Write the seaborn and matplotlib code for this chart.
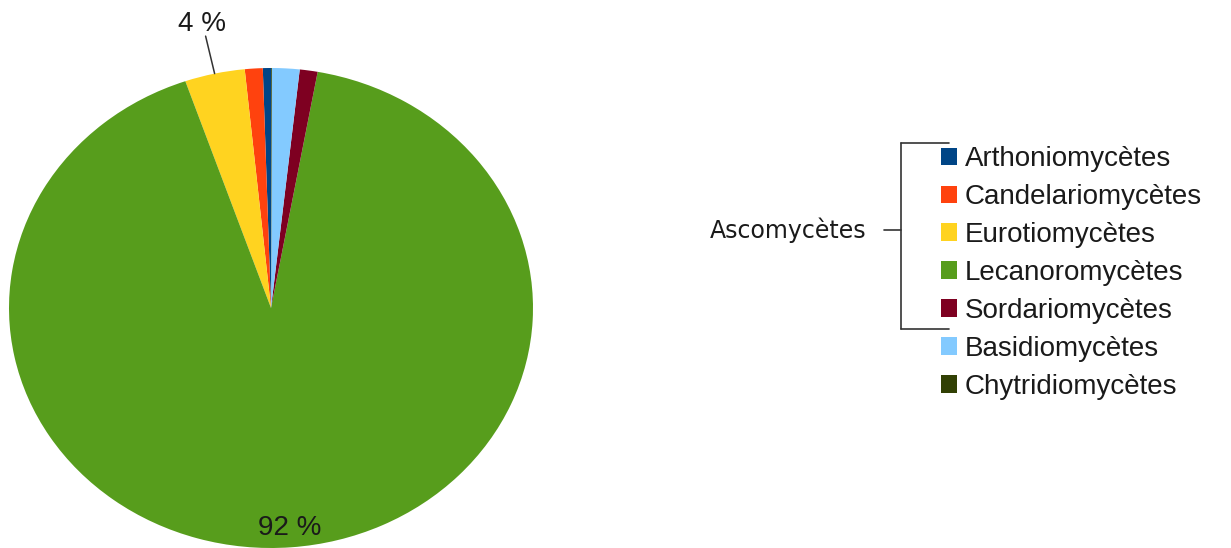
import matplotlib
matplotlib.use("Agg")
import matplotlib.pyplot as plt
from matplotlib.lines import Line2D
import numpy as np
import seaborn as sns

# data
classes = ["Arthoniomycètes", "Candelariomycètes", "Eurotiomycètes", "Lecanoromycètes",
           "Sordariomycètes", "Basidiomycètes", "Chytridiomycètes"]
shares = [0.5, 1.1, 3.7, 91.8, 1.1, 1.7, 0.05]
colors = ["#004586", "#ff420e", "#ffd320", "#579d1c", "#7e0021", "#83caff", "#314004"]
shown_labels = {"Eurotiomycètes": "4 %", "Lecanoromycètes": "92 %"}
group_name = "Ascomycètes"
group_size = 5

sns.set_theme(style="white")
plt.rcParams["font.family"] = ["Liberation Sans", "DejaVu Sans"]

W, H = 1231, 548
fig = plt.figure(figsize=(W / 100, H / 100), dpi=100)
fig.patch.set_facecolor("white")

# pie is slightly stretched horizontally in the reference
ax = fig.add_axes([9 / W, 0, 524 / W, 480 / H])
wedges, _ = ax.pie(shares, colors=colors, startangle=90, counterclock=True,
                   radius=1, wedgeprops=dict(linewidth=0))
ax.set_aspect("auto")
ax.set_xlim(-1, 1)
ax.set_ylim(-1, 1)
ax.axis("off")

for w, name in zip(wedges, classes):
    if name not in shown_labels:
        continue
    mid = np.deg2rad((w.theta1 + w.theta2) / 2)
    c, s = np.cos(mid), np.sin(mid)
    if w.theta2 - w.theta1 > 180:
        ax.text(0.92 * c, 0.92 * s, shown_labels[name], ha="center", va="center",
                fontsize=20, color="#1a1a1a", clip_on=False)
    else:
        ax.add_line(Line2D([1.0 * c, 1.16 * c], [1.0 * s, 1.16 * s], color="#333333",
                           lw=1.1, clip_on=False))
        ax.text(1.22 * c, 1.21 * s, shown_labels[name], ha="center", va="center",
                fontsize=20, color="#1a1a1a", clip_on=False)

leg = fig.legend(wedges, classes, loc="upper left", bbox_to_anchor=(941 / W, 1 - 146 / H),
                 frameon=False, fontsize=20, handlelength=0.58, handleheight=0.58,
                 handletextpad=0.28, labelspacing=0.43, borderpad=0, borderaxespad=0)
for t in leg.get_texts():
    t.set_color("#1a1a1a")

# bracket grouping the ascomycete classes
fig.canvas.draw()
texts = leg.get_texts()
e_top = texts[0].get_window_extent()
e_bot = texts[group_size - 1].get_window_extent()
sq = leg.legend_handles[0].get_window_extent()
y_top = (e_top.y0 + e_top.y1) / 2 + 16
y_bot = (e_bot.y0 + e_bot.y1) / 2 - 18
y_mid = ((e_top.y0 + e_top.y1) / 2 + (e_bot.y0 + e_bot.y1) / 2) / 2 + 5
bx = sq.x0 - 40
for xs, ys in [([bx, bx], [y_top, y_bot]),
               ([bx, sq.x0 + 8], [y_top, y_top]),
               ([bx, sq.x0 + 8], [y_bot, y_bot]),
               ([bx - 17, bx], [y_mid, y_mid])]:
    fig.add_artist(Line2D([x / W for x in xs], [y / H for y in ys], color="#333333",
                          lw=1.2, transform=fig.transFigure))
fig.text((bx - 35) / W, y_mid / H, group_name, ha="right", va="center",
         fontsize=17, family="DejaVu Sans", color="#1a1a1a")

fig.savefig("out.png", dpi=100)
